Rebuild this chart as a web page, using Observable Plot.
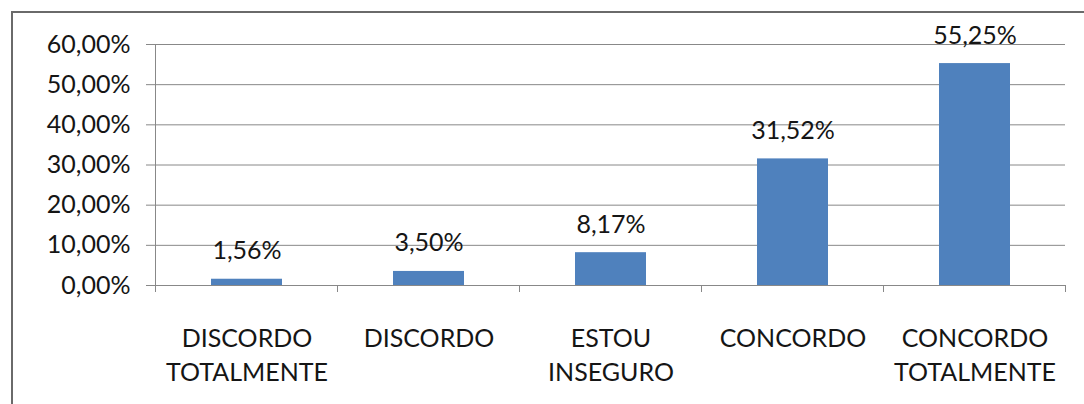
<!DOCTYPE html>
<html>
<head>
<meta charset="utf-8">
<script src="https://cdn.jsdelivr.net/npm/d3@7"></script>
<script src="https://cdn.jsdelivr.net/npm/@observablehq/plot@0.6"></script>
<style>
  html, body { margin: 0; padding: 0; background: #fff; }
  #wrap { position: relative; width: 1084px; height: 404px; overflow: hidden; }
  #frame { position: absolute; left: 11px; top: 11px; width: 1100px; height: 420px;
           border-left: 2px solid #6a6a6a; border-top: 2px solid #6a6a6a; }
  #chart { position: absolute; left: 0; top: 0; }
</style>
</head>
<body>
<div id="wrap">
  <div id="frame"></div>
  <div id="chart"></div>
</div>
<script>
const categories = ["DISCORDO TOTALMENTE", "DISCORDO", "ESTOU INSEGURO", "CONCORDO", "CONCORDO TOTALMENTE"];
const categoryLabels = ["DISCORDO\nTOTALMENTE", "DISCORDO", "ESTOU\nINSEGURO", "CONCORDO", "CONCORDO\nTOTALMENTE"];
const values = [0.0156, 0.0350, 0.0817, 0.3152, 0.5525];
const yTicks = [0, 0.1, 0.2, 0.3, 0.4, 0.5, 0.6];

const data = categories.map((c, i) => ({category: c, label: categoryLabels[i], value: values[i]}));
const pct = d => d3.format(".2f")(d * 100).replace(".", ",") + "%";
const labelOf = new Map(data.map(d => [d.category, d.label]));

const font = "Lato, 'Noto Sans', sans-serif";
const textColor = "#151515";
const gridColor = "#888888";

function axisFrame(index, scales, values, dimensions) {
  const {width, marginLeft, marginRight} = dimensions;
  const y0 = scales.y(0);
  const yTop = scales.y(yTicks[yTicks.length - 1]);
  const step = (width - marginLeft - marginRight) / categories.length;
  const g = d3.create("svg:g").attr("stroke", gridColor).attr("fill", "none");
  g.append("path").attr("d", `M${marginLeft + 0.5},${yTop}V${y0 + 7}`);
  for (let i = 0; i <= categories.length; i++) {
    const x = Math.round(marginLeft + i * step) + 0.5;
    g.append("path").attr("d", `M${x},${y0}V${y0 + 7}`);
  }
  return g.node();
}

const chart = Plot.plot({
  width: 1084,
  height: 404,
  marginLeft: 155,
  marginRight: 19,
  marginTop: 44,
  marginBottom: 119,
  style: {fontFamily: font, background: "transparent", overflow: "visible"},
  x: {domain: categories, paddingInner: 0.61, paddingOuter: 0.305, label: null},
  y: {domain: [0, 0.6], label: null},
  marks: [
    Plot.gridY(yTicks, {stroke: gridColor, strokeOpacity: 1}),
    Plot.axisY(yTicks, {tickFormat: pct, tickSize: 9, tickPadding: 16, fontSize: 25, fill: textColor, stroke: gridColor, label: null}),
    Plot.axisX({tickSize: 0, tickPadding: 37, fontSize: 25, lineHeight: 1.36, fill: textColor, tickFormat: d => labelOf.get(d), label: null}),
    Plot.barY(data, {x: "category", y: "value", fill: "#4F81BD"}),
    Plot.text(data, {x: "category", y: "value", text: d => pct(d.value), dy: -28, fontSize: 25, fill: textColor}),
    axisFrame
  ]
});
document.getElementById("chart").appendChild(chart);
</script>
</body>
</html>
